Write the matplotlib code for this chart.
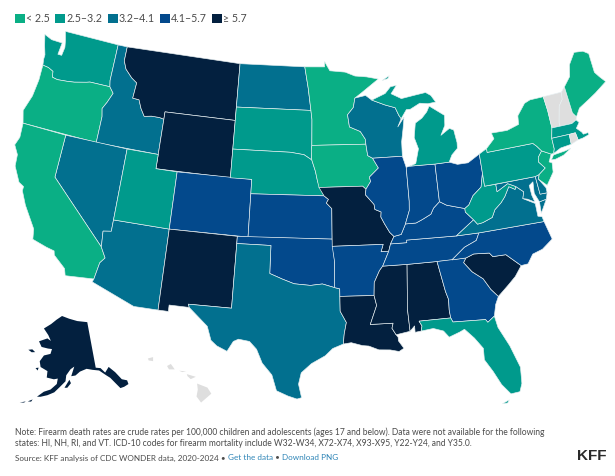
"""KFF choropleth: firearm death rates among children, by state."""

import math

import matplotlib

matplotlib.use("Agg")
import matplotlib.pyplot as plt
from matplotlib.patches import Polygon, Rectangle

BIN_LABELS = ["< 2.5", "2.5–3.2", "3.2–4.1", "4.1–5.7", "≥ 5.7"]
BIN_COLORS = ["#0aaf85", "#009a8c", "#02708f", "#03498c", "#03203f"]
NO_DATA_COLOR = "#dedede"

# rate bin per state, None = no data
STATE_BIN = {
    "OR": 0, "CA": 0, "MN": 0, "IA": 0, "NY": 0, "ME": 0, "NJ": 0,
    "WA": 1, "UT": 1, "SD": 1, "NE": 1, "MI": 1, "PA": 1, "WV": 1, "FL": 1, "MA": 1, "CT": 1,
    "ID": 2, "NV": 2, "AZ": 2, "TX": 2, "ND": 2, "WI": 2, "VA": 2, "MD": 2, "DE": 2,
    "CO": 3, "KS": 3, "OK": 3, "AR": 3, "IL": 3, "IN": 3, "OH": 3, "KY": 3, "TN": 3, "NC": 3, "GA": 3,
    "MT": 4, "WY": 4, "NM": 4, "MO": 4, "LA": 4, "MS": 4, "AL": 4, "SC": 4, "AK": 4,
    "VT": None, "NH": None, "RI": None, "HI": None,
}

# state outlines, lon/lat, one list per ring
STATE_RINGS = {
    "WA": [[(-124.73, 48.38), (-123.9, 48.16), (-123.1, 48.15), (-122.75, 48.15), (-122.85, 47.3), (-122.45, 47.3), (-122.35, 47.9), (-122.5, 48.4), (-122.76, 49.0), (-117.03, 49.0), (-117.04, 46.43), (-116.92, 46.0), (-118.98, 46.0), (-119.3, 45.93), (-120.5, 45.72), (-121.2, 45.65), (-122.2, 45.58), (-122.75, 45.65), (-122.85, 46.05), (-123.4, 46.22), (-124.0, 46.27), (-124.1, 46.7), (-124.1, 47.0), (-124.4, 47.6)]],
    "OR": [[(-124.0, 46.27), (-123.4, 46.22), (-122.85, 46.05), (-122.75, 45.65), (-122.2, 45.58), (-121.2, 45.65), (-120.5, 45.72), (-119.3, 45.93), (-118.98, 46.0), (-116.92, 46.0), (-116.46, 45.6), (-116.85, 44.9), (-117.2, 44.4), (-117.03, 43.85), (-117.03, 42.0), (-124.2, 42.0), (-124.55, 42.85), (-124.1, 44.0), (-123.95, 45.2)]],
    "ID": [[(-117.03, 49.0), (-116.05, 49.0), (-116.05, 48.0), (-115.7, 47.45), (-114.95, 46.93), (-114.35, 46.65), (-114.45, 45.55), (-113.8, 45.52), (-113.45, 44.95), (-113.0, 44.45), (-112.3, 44.55), (-111.5, 44.55), (-111.05, 44.48), (-111.05, 42.0), (-117.03, 42.0), (-117.03, 43.85), (-117.2, 44.4), (-116.85, 44.9), (-116.46, 45.6), (-116.92, 46.0), (-117.04, 46.43)]],
    "MT": [[(-116.05, 49.0), (-104.05, 49.0), (-104.05, 45.0), (-111.05, 45.0), (-111.05, 44.48), (-111.5, 44.55), (-112.3, 44.55), (-113.0, 44.45), (-113.45, 44.95), (-113.8, 45.52), (-114.45, 45.55), (-114.35, 46.65), (-114.95, 46.93), (-115.7, 47.45), (-116.05, 48.0)]],
    "WY": [[(-111.05, 45.0), (-104.05, 45.0), (-104.05, 41.0), (-111.05, 41.0)]],
    "NV": [[(-120.0, 42.0), (-114.04, 42.0), (-114.04, 36.2), (-114.75, 36.1), (-114.63, 35.0), (-120.0, 39.0)]],
    "CA": [[(-124.2, 42.0), (-120.0, 42.0), (-120.0, 39.0), (-114.63, 35.0), (-114.13, 34.3), (-114.5, 33.9), (-114.72, 32.72), (-117.12, 32.53), (-117.3, 33.0), (-118.4, 33.75), (-118.5, 34.03), (-119.2, 34.15), (-120.5, 34.45), (-120.65, 35.15), (-121.9, 36.6), (-122.5, 37.5), (-122.5, 37.8), (-123.0, 38.0), (-123.75, 39.0), (-123.85, 39.8), (-124.35, 40.4), (-124.1, 41.0)]],
    "AZ": [[(-114.04, 37.0), (-109.05, 37.0), (-109.05, 31.33), (-111.07, 31.33), (-114.81, 32.5), (-114.72, 32.72), (-114.5, 33.9), (-114.13, 34.3), (-114.63, 35.0), (-114.75, 36.1), (-114.04, 36.2)]],
    "UT": [[(-114.04, 42.0), (-111.05, 42.0), (-111.05, 41.0), (-109.05, 41.0), (-109.05, 37.0), (-114.04, 37.0)]],
    "CO": [[(-109.05, 41.0), (-102.05, 41.0), (-102.05, 37.0), (-109.05, 37.0)]],
    "NM": [[(-109.05, 37.0), (-103.0, 37.0), (-103.04, 32.0), (-106.62, 32.0), (-106.53, 31.78), (-108.2, 31.78), (-108.2, 31.33), (-109.05, 31.33)]],
    "ND": [[(-104.05, 49.0), (-97.23, 49.0), (-96.85, 47.5), (-96.56, 45.94), (-104.05, 45.94)]],
    "SD": [[(-104.05, 45.94), (-96.56, 45.94), (-96.45, 45.3), (-96.45, 43.5), (-96.5, 43.1), (-96.45, 42.49), (-97.2, 42.85), (-98.5, 43.0), (-104.05, 43.0)]],
    "NE": [[(-104.05, 43.0), (-98.5, 43.0), (-97.2, 42.85), (-96.45, 42.49), (-96.1, 41.7), (-95.9, 41.0), (-95.31, 40.0), (-102.05, 40.0), (-102.05, 41.0), (-104.05, 41.0)]],
    "KS": [[(-102.05, 40.0), (-95.31, 40.0), (-94.9, 39.75), (-95.1, 39.5), (-94.61, 39.11), (-94.62, 37.0), (-102.05, 37.0)]],
    "OK": [[(-103.0, 37.0), (-94.62, 37.0), (-94.43, 35.4), (-94.48, 33.64), (-95.5, 33.9), (-96.5, 33.8), (-97.2, 33.85), (-97.9, 33.9), (-98.9, 34.2), (-100.0, 34.56), (-100.0, 36.5), (-103.0, 36.5)]],
    "TX": [[(-103.0, 36.5), (-100.0, 36.5), (-100.0, 34.56), (-98.9, 34.2), (-97.9, 33.9), (-97.2, 33.85), (-96.5, 33.8), (-95.5, 33.9), (-94.48, 33.64), (-94.04, 33.55), (-94.04, 31.99), (-93.55, 31.2), (-93.75, 30.4), (-93.84, 29.7), (-94.7, 29.4), (-95.3, 28.9), (-96.4, 28.35), (-97.2, 27.7), (-97.4, 26.9), (-97.15, 25.95), (-97.5, 25.85), (-98.2, 26.05), (-99.1, 26.4), (-99.5, 27.5), (-100.3, 28.3), (-100.8, 29.25), (-101.4, 29.77), (-102.3, 29.88), (-102.7, 29.7), (-103.15, 28.98), (-104.0, 29.3), (-104.5, 29.65), (-104.9, 30.6), (-106.53, 31.78), (-106.62, 32.0), (-103.04, 32.0)]],
    "MN": [[(-97.23, 49.0), (-95.15, 49.0), (-95.15, 49.38), (-94.6, 48.72), (-93.0, 48.6), (-92.0, 48.3), (-90.8, 48.2), (-89.6, 48.0), (-91.4, 47.1), (-92.1, 46.75), (-92.29, 46.1), (-92.9, 45.6), (-92.75, 44.75), (-91.7, 44.4), (-91.25, 43.85), (-91.22, 43.5), (-96.45, 43.5), (-96.45, 45.3), (-96.56, 45.94), (-96.85, 47.5)]],
    "IA": [[(-96.45, 43.5), (-91.22, 43.5), (-91.1, 42.7), (-90.65, 42.5), (-90.15, 41.8), (-91.05, 41.2), (-90.95, 40.9), (-91.42, 40.38), (-91.72, 40.6), (-95.77, 40.58), (-95.9, 41.0), (-96.1, 41.7), (-96.45, 42.49), (-96.5, 43.1)]],
    "MO": [[(-95.77, 40.58), (-91.72, 40.6), (-91.42, 40.38), (-91.5, 40.0), (-90.75, 39.3), (-90.7, 38.95), (-90.15, 38.75), (-90.2, 38.4), (-89.9, 37.9), (-89.5, 37.3), (-89.15, 37.0), (-89.5, 36.5), (-89.7, 36.0), (-90.37, 36.0), (-90.15, 36.5), (-94.62, 36.5), (-94.62, 37.0), (-94.61, 39.11), (-95.1, 39.5), (-94.9, 39.75), (-95.31, 40.0)]],
    "AR": [[(-94.62, 36.5), (-90.15, 36.5), (-90.37, 36.0), (-89.7, 36.0), (-90.3, 35.0), (-90.6, 34.7), (-91.1, 33.9), (-91.17, 33.0), (-94.04, 33.02), (-94.04, 33.55), (-94.48, 33.64), (-94.43, 35.4)]],
    "LA": [[(-94.04, 33.02), (-91.17, 33.0), (-91.0, 32.3), (-91.6, 31.0), (-89.73, 31.0), (-89.85, 30.65), (-89.55, 30.18), (-89.4, 30.0), (-89.4, 29.75), (-89.0, 29.2), (-89.4, 29.0), (-90.1, 29.15), (-91.0, 29.2), (-91.8, 29.5), (-92.3, 29.55), (-93.2, 29.78), (-93.84, 29.7), (-93.75, 30.4), (-93.55, 31.2), (-94.04, 31.99)]],
    "MS": [[(-91.17, 33.0), (-91.1, 33.9), (-90.6, 34.7), (-90.3, 35.0), (-88.2, 35.0), (-88.47, 31.9), (-88.4, 30.35), (-89.55, 30.18), (-89.85, 30.65), (-89.73, 31.0), (-91.6, 31.0), (-91.0, 32.3)]],
    "AL": [[(-88.2, 35.0), (-85.61, 35.0), (-85.18, 32.87), (-85.0, 32.3), (-85.05, 31.55), (-85.0, 31.0), (-87.6, 31.0), (-87.4, 30.65), (-87.5, 30.3), (-88.0, 30.25), (-88.0, 30.7), (-88.4, 30.35), (-88.47, 31.9)]],
    "TN": [[(-89.7, 36.0), (-89.5, 36.5), (-88.07, 36.5), (-88.07, 36.68), (-83.68, 36.6), (-81.68, 36.59), (-82.0, 36.1), (-83.1, 35.75), (-84.32, 34.99), (-85.61, 35.0), (-88.2, 35.0), (-90.3, 35.0)]],
    "KY": [[(-89.5, 36.5), (-89.15, 37.0), (-88.5, 37.1), (-88.05, 37.8), (-87.1, 37.8), (-86.5, 38.0), (-85.7, 38.3), (-85.4, 38.7), (-84.8, 39.1), (-84.2, 38.8), (-83.6, 38.65), (-82.6, 38.4), (-82.6, 38.15), (-81.97, 37.54), (-83.68, 36.6), (-88.07, 36.68), (-88.07, 36.5)]],
    "WI": [[(-92.1, 46.75), (-91.0, 46.9), (-90.4, 46.55), (-89.1, 46.15), (-88.1, 45.9), (-87.8, 45.35), (-87.6, 45.1), (-88.0, 44.55), (-87.3, 45.2), (-87.5, 44.4), (-87.75, 43.5), (-87.8, 42.49), (-90.65, 42.5), (-91.1, 42.7), (-91.22, 43.5), (-91.25, 43.85), (-91.7, 44.4), (-92.75, 44.75), (-92.9, 45.6), (-92.29, 46.1)]],
    "IL": [[(-91.42, 40.38), (-90.95, 40.9), (-91.05, 41.2), (-90.15, 41.8), (-90.65, 42.5), (-87.8, 42.49), (-87.53, 41.7), (-87.53, 39.35), (-87.6, 38.7), (-88.05, 37.8), (-88.5, 37.1), (-89.15, 37.0), (-89.5, 37.3), (-89.9, 37.9), (-90.2, 38.4), (-90.15, 38.75), (-90.7, 38.95), (-90.75, 39.3), (-91.5, 40.0)]],
    "IN": [[(-87.53, 41.7), (-87.2, 41.76), (-84.8, 41.72), (-84.8, 39.1), (-85.4, 38.7), (-85.7, 38.3), (-86.5, 38.0), (-87.1, 37.8), (-88.05, 37.8), (-87.6, 38.7), (-87.53, 39.35)]],
    "OH": [[(-84.8, 41.72), (-83.45, 41.73), (-82.7, 41.5), (-81.7, 41.5), (-80.52, 41.98), (-80.52, 40.64), (-80.85, 39.7), (-81.7, 39.2), (-82.2, 38.6), (-82.6, 38.4), (-83.6, 38.65), (-84.2, 38.8), (-84.8, 39.1)]],
    "MI": [
        [(-87.2, 41.76), (-84.8, 41.72), (-83.45, 41.73), (-83.1, 42.2), (-82.5, 42.6), (-82.45, 43.0), (-82.6, 43.9), (-83.0, 44.05), (-83.9, 43.65), (-83.4, 44.3), (-83.3, 45.0), (-84.7, 45.78), (-85.0, 45.4), (-85.55, 45.0), (-86.25, 44.7), (-86.5, 43.7), (-86.2, 42.9), (-86.6, 41.9)],
        [(-90.4, 46.55), (-89.0, 46.95), (-88.4, 47.4), (-87.8, 47.45), (-88.4, 46.9), (-87.4, 46.5), (-86.0, 46.65), (-84.9, 46.75), (-84.4, 46.5), (-84.0, 46.0), (-84.8, 45.95), (-85.6, 46.05), (-86.6, 45.7), (-87.0, 45.7), (-87.6, 45.1), (-87.8, 45.35), (-88.1, 45.9), (-89.1, 46.15)],
        [(-89.2, 47.88), (-88.45, 48.17), (-88.6, 47.98)],
    ],
    "GA": [[(-85.61, 35.0), (-83.1, 35.0), (-83.35, 34.7), (-82.75, 34.0), (-81.9, 33.4), (-81.4, 32.6), (-80.87, 32.03), (-81.2, 31.5), (-81.45, 30.72), (-82.05, 30.36), (-82.2, 30.57), (-84.86, 30.7), (-85.0, 31.0), (-85.05, 31.55), (-85.0, 32.3), (-85.18, 32.87)]],
    "FL": [
        [(-87.6, 31.0), (-85.0, 31.0), (-84.86, 30.7), (-82.2, 30.57), (-82.05, 30.36), (-81.45, 30.72), (-81.3, 29.9), (-80.6, 28.5), (-80.05, 26.9), (-80.15, 25.75), (-80.4, 25.2), (-81.1, 25.15), (-81.7, 25.9), (-82.2, 26.9), (-82.75, 27.8), (-82.7, 28.6), (-83.3, 29.4), (-84.0, 30.1), (-84.4, 29.95), (-85.3, 29.68), (-85.7, 30.15), (-86.5, 30.4), (-87.5, 30.3), (-87.4, 30.65)],
        [(-81.85, 24.55), (-81.3, 24.75), (-81.45, 24.55)],
    ],
    "SC": [[(-83.1, 35.0), (-82.4, 35.2), (-81.05, 35.1), (-80.8, 34.82), (-79.67, 34.8), (-78.55, 33.87), (-79.2, 33.2), (-79.9, 32.7), (-80.87, 32.03), (-81.4, 32.6), (-81.9, 33.4), (-82.75, 34.0), (-83.35, 34.7)]],
    "NC": [[(-84.32, 34.99), (-83.1, 35.75), (-82.0, 36.1), (-81.68, 36.59), (-75.87, 36.55), (-75.5, 35.25), (-76.5, 34.7), (-77.4, 34.5), (-77.95, 33.9), (-78.55, 33.87), (-79.67, 34.8), (-80.8, 34.82), (-81.05, 35.1), (-82.4, 35.2), (-83.1, 35.0)]],
    "VA": [
        [(-83.68, 36.6), (-81.97, 37.54), (-81.68, 37.2), (-81.2, 37.25), (-80.3, 37.5), (-79.95, 38.0), (-79.3, 38.4), (-78.87, 38.77), (-78.35, 39.4), (-77.83, 39.13), (-77.72, 39.32), (-77.1, 38.85), (-77.3, 38.4), (-76.3, 37.9), (-76.3, 37.0), (-75.95, 36.9), (-75.87, 36.55), (-81.68, 36.59)],
        [(-75.95, 37.15), (-75.9, 37.95), (-75.25, 38.03)],
    ],
    "WV": [[(-82.6, 38.15), (-82.6, 38.4), (-82.2, 38.6), (-81.7, 39.2), (-80.85, 39.7), (-80.52, 40.64), (-80.52, 39.72), (-79.48, 39.72), (-79.48, 39.2), (-78.4, 39.62), (-77.72, 39.32), (-77.83, 39.13), (-78.35, 39.4), (-78.87, 38.77), (-79.3, 38.4), (-79.95, 38.0), (-80.3, 37.5), (-81.2, 37.25), (-81.68, 37.2), (-81.97, 37.54)]],
    "MD": [[(-79.48, 39.72), (-75.79, 39.72), (-75.7, 38.46), (-75.05, 38.45), (-75.25, 38.03), (-75.9, 37.95), (-76.2, 38.6), (-76.1, 39.4), (-76.5, 39.2), (-76.45, 38.5), (-76.3, 38.0), (-76.9, 38.3), (-77.3, 38.4), (-77.1, 38.85), (-77.72, 39.32), (-78.4, 39.62), (-79.48, 39.2)]],
    "DE": [[(-75.79, 39.72), (-75.4, 39.8), (-75.55, 39.5), (-75.05, 38.8), (-75.05, 38.45), (-75.7, 38.46)]],
    "PA": [[(-80.52, 41.98), (-79.76, 42.27), (-79.76, 42.0), (-75.35, 42.0), (-75.05, 41.75), (-74.7, 41.36), (-75.13, 40.98), (-75.2, 40.65), (-74.72, 40.15), (-75.4, 39.8), (-75.79, 39.72), (-80.52, 39.72)]],
    "NJ": [[(-74.7, 41.36), (-73.9, 41.0), (-74.25, 40.5), (-74.0, 40.4), (-74.1, 39.75), (-74.9, 38.95), (-75.55, 39.5), (-75.4, 39.8), (-74.72, 40.15), (-75.2, 40.65), (-75.13, 40.98)]],
    "NY": [
        [(-79.76, 42.0), (-79.76, 42.27), (-78.9, 42.85), (-79.05, 43.27), (-77.5, 43.25), (-76.3, 43.5), (-76.2, 44.1), (-75.3, 44.85), (-74.7, 45.0), (-73.35, 45.0), (-73.25, 44.0), (-73.25, 42.75), (-73.5, 42.05), (-73.5, 41.3), (-73.65, 41.0), (-73.9, 41.0), (-74.7, 41.36), (-75.05, 41.75), (-75.35, 42.0)],
        [(-74.0, 40.6), (-73.7, 40.9), (-72.6, 40.98), (-72.0, 41.05), (-72.8, 40.72), (-73.6, 40.58)],
    ],
    "VT": [[(-73.35, 45.0), (-71.5, 45.0), (-71.6, 44.5), (-72.05, 44.1), (-72.45, 43.0), (-72.46, 42.73), (-73.25, 42.75), (-73.25, 44.0)]],
    "NH": [[(-71.5, 45.0), (-71.08, 45.3), (-70.98, 43.4), (-70.7, 43.07), (-70.82, 42.87), (-71.3, 42.7), (-72.46, 42.73), (-72.45, 43.0), (-72.05, 44.1), (-71.6, 44.5)]],
    "ME": [[(-71.08, 45.3), (-70.3, 45.9), (-70.0, 46.7), (-69.2, 47.45), (-68.3, 47.35), (-67.8, 47.07), (-67.8, 45.7), (-67.45, 45.3), (-67.0, 44.85), (-68.3, 44.3), (-69.1, 44.0), (-70.2, 43.6), (-70.7, 43.07), (-70.98, 43.4)]],
    "MA": [[(-73.5, 42.05), (-73.25, 42.75), (-72.46, 42.73), (-71.3, 42.7), (-70.82, 42.87), (-70.6, 42.65), (-71.0, 42.3), (-70.6, 41.95), (-70.5, 41.78), (-70.05, 41.8), (-70.0, 41.65), (-70.65, 41.53), (-71.12, 41.5), (-71.2, 42.02), (-71.8, 42.02)]],
    "CT": [[(-73.5, 42.05), (-71.8, 42.02), (-71.85, 41.32), (-72.9, 41.25), (-73.65, 41.0), (-73.5, 41.3)]],
    "RI": [[(-71.8, 42.02), (-71.2, 42.02), (-71.12, 41.5), (-71.85, 41.32)]],
}

ALASKA_RINGS = [
    [(-141.0, 69.65), (-141.0, 60.3), (-139.0, 60.0), (-137.5, 58.9), (-135.5, 59.8), (-133.5, 58.4), (-131.8, 56.6), (-130.0, 56.0), (-130.0, 55.2), (-131.8, 55.0), (-133.3, 55.0), (-134.5, 56.2), (-136.0, 57.6), (-137.5, 58.4), (-139.8, 59.6), (-142.5, 60.0), (-145.0, 60.4), (-148.0, 60.0), (-150.0, 59.3), (-151.8, 59.2), (-150.3, 61.1), (-152.0, 60.6), (-153.9, 59.4), (-154.2, 58.2), (-156.5, 57.0), (-158.5, 55.9), (-161.0, 55.2), (-163.5, 54.7), (-164.8, 54.6), (-162.5, 55.8), (-160.0, 56.4), (-157.7, 57.6), (-157.4, 58.7), (-159.0, 58.5), (-162.0, 58.7), (-162.0, 60.0), (-165.2, 60.6), (-166.0, 61.7), (-164.5, 63.0), (-161.5, 63.5), (-161.0, 64.5), (-163.0, 64.5), (-166.3, 64.6), (-168.1, 65.6), (-164.0, 66.5), (-162.0, 66.1), (-163.8, 67.2), (-166.8, 68.35), (-163.0, 69.5), (-160.0, 70.5), (-156.6, 71.35), (-152.0, 70.8), (-147.0, 70.2)],
    [(-154.6, 56.9), (-152.6, 58.5), (-152.0, 57.8), (-153.5, 56.9)],
    [(-166.2, 53.9), (-167.8, 53.3), (-166.6, 53.4)],
    [(-170.5, 52.7), (-168.5, 53.2), (-169.0, 52.9)],
    [(-172.3, 63.4), (-170.5, 63.7), (-168.9, 63.3), (-170.5, 63.1)],
    [(-166.0, 60.4), (-167.3, 60.2), (-166.2, 59.8)],
]

HAWAII_RINGS = [
    [(-155.9, 20.25), (-155.1, 19.95), (-154.8, 19.5), (-155.6, 18.85), (-155.95, 19.3), (-155.85, 19.8)],
    [(-156.7, 20.95), (-156.0, 20.75), (-156.4, 20.58), (-156.65, 20.8)],
    [(-158.25, 21.55), (-157.95, 21.7), (-157.65, 21.3), (-158.1, 21.3)],
    [(-159.75, 22.1), (-159.35, 22.2), (-159.35, 21.9), (-159.7, 21.95)],
    [(-157.3, 21.2), (-156.75, 21.15), (-157.05, 21.1)],
]

NOTE_LINES = [
    "Note: Firearm death rates are crude rates per 100,000 children and adolescents (ages 17 and below). Data were not available for the following",
    "states: HI, NH, RI, and VT. ICD-10 codes for firearm mortality include W32-W34, X72-X74, X93-X95, Y22-Y24, and Y35.0.",
]
SOURCE_TEXT = "Source: KFF analysis of CDC WONDER data, 2020-2024 • "
LINK_DATA = "Get the data"
LINK_PNG = "Download PNG"
LOGO_TEXT = "KFF"

TEXT_COLOR = "#4b4b4b"
LINK_COLOR = "#2f85b7"


def albers(lon, lat, lon0, lat0, par1, par2):
    """Albers equal-area conic, returns unit-sphere x, y (y up)."""
    phi1, phi2 = math.radians(par1), math.radians(par2)
    n = (math.sin(phi1) + math.sin(phi2)) / 2
    c = math.cos(phi1) ** 2 + 2 * n * math.sin(phi1)
    rho0 = math.sqrt(c - 2 * n * math.sin(math.radians(lat0))) / n
    rho = math.sqrt(c - 2 * n * math.sin(math.radians(lat))) / n
    theta = n * math.radians(lon - lon0)
    return rho * math.sin(theta), rho0 - rho * math.cos(theta)


def project_lower48(lon, lat):
    x, y = albers(lon, lat, -96, 37.5, 29.5, 45.5)
    return 316.5 + 820 * x, 232 - 820 * y


def project_alaska(lon, lat):
    x, y = albers(lon, lat, -154, 50, 55, 65)
    return 66 + 267 * x, 422 - 285 * y


def project_hawaii(lon, lat):
    x, y = albers(lon, lat, -157, 20, 8, 18)
    return 183 + 780 * x, 387 - 780 * y


def draw_rings(ax, rings, project, color, edge="#e8f0f2"):
    for ring in rings:
        pts = [project(lon, lat) for lon, lat in ring]
        ax.add_patch(Polygon(pts, closed=True, facecolor=color, edgecolor=edge, linewidth=0.45, joinstyle="round"))


def bin_color(state):
    idx = STATE_BIN[state]
    return NO_DATA_COLOR if idx is None else BIN_COLORS[idx]


def draw_legend(ax):
    swatch_x = [15, 55, 108, 160, 212]
    for x, label, color in zip(swatch_x, BIN_LABELS, BIN_COLORS):
        ax.add_patch(Rectangle((x, 13.5), 9.5, 9.5, facecolor=color, edgecolor="none"))
        ax.text(x + 11, 18.5, label, fontsize=7.7, color=TEXT_COLOR, va="center", ha="left")


def draw_footer(fig, ax):
    for y, line in zip([432, 444], NOTE_LINES):
        ax.text(15, y, line, fontsize=6.15, color=TEXT_COLOR, va="center", ha="left")

    # source line runs on, so each piece starts where the last one ended
    renderer = fig.canvas.get_renderer()
    x = 15
    for piece, color in [(SOURCE_TEXT, TEXT_COLOR), (LINK_DATA, LINK_COLOR), (" • ", TEXT_COLOR), (LINK_PNG, LINK_COLOR)]:
        txt = ax.text(x, 458, piece, fontsize=5.9, color=color, va="center", ha="left")
        x = txt.get_window_extent(renderer).x1

    ax.text(606, 456, LOGO_TEXT, fontsize=11, fontweight="bold", family="Liberation Sans", color="#2a2a2a", va="center", ha="right")


def main():
    plt.rcParams["font.family"] = ["Lato", "DejaVu Sans"]
    fig = plt.figure(figsize=(6.15, 4.76), dpi=100)
    ax = fig.add_axes([0, 0, 1, 1])
    ax.set_xlim(0, 615)
    ax.set_ylim(476, 0)
    ax.axis("off")

    for state, rings in STATE_RINGS.items():
        draw_rings(ax, rings, project_lower48, bin_color(state))
    draw_rings(ax, ALASKA_RINGS, project_alaska, bin_color("AK"), edge="none")
    draw_rings(ax, HAWAII_RINGS, project_hawaii, bin_color("HI"), edge="none")

    draw_legend(ax)
    draw_footer(fig, ax)
    fig.savefig("out.png", dpi=100)
    plt.close(fig)


if __name__ == "__main__":
    main()
